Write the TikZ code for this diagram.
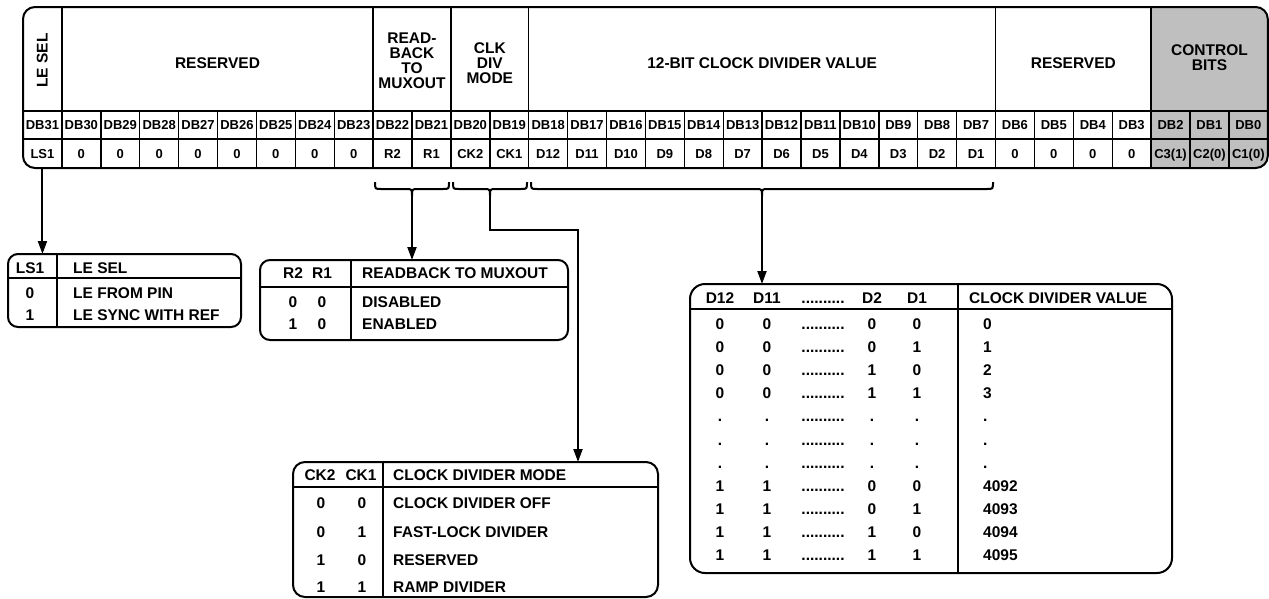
\documentclass[tikz,border=0pt]{standalone}
\usepackage{fontspec}
\setmainfont{Liberation Sans}
\usetikzlibrary{arrows.meta}
\definecolor{ctrlgray}{RGB}{191,191,191}
\newcommand\hdf{\fontsize{15.5}{15}\selectfont\bfseries}
\newcommand\dbf{\fontsize{13}{13}\selectfont\bfseries}
\newcommand\tbf{\fontsize{15.5}{15.5}\selectfont\bfseries}
\newcommand\regbrace[3]{%
  \pgfmathsetmacro\bc{(#1+#2)/2}%
  \draw[brc] (#1,182) .. controls (#1,189) .. (#1+6,189) -- (\bc-6,189)
    .. controls (\bc,189) .. (\bc,196) .. controls (\bc,189) .. (\bc+6,189)
    -- (#2-6,189) .. controls (#2,189) .. (#2,182);
  \coordinate (#3) at (\bc,196);}
\begin{document}
\begin{tikzpicture}[x=1pt,y=-1pt,
  tbox/.style={draw=black, line width=2pt, inner sep=0pt, outer sep=0pt, rounded corners=10pt},
  gridl/.style={line width=1.4pt},
  tgrid/.style={line width=1.4pt},
  arr/.style={line width=2pt, -{Triangle[length=13pt,width=9pt]}},
  brc/.style={line width=2pt},
  hd/.style={font=\hdf, align=center, inner sep=0pt},
  dbl/.style={font=\dbf, anchor=base, inner sep=0pt},
  tc/.style={font=\tbf, anchor=base, inner sep=0pt},
  tl/.style={font=\tbf, anchor=base west, inner sep=0pt}]
\useasboundingbox (0,0) rectangle (1269,598);

% control bits shading
\fill[ctrlgray] (1151.1,7) [rounded corners=12pt] -- (1267.8,7) -- (1267.8,168) [sharp corners] -- (1151.1,168) -- cycle;

% register outline
\node[draw, line width=2pt, rounded corners=12pt, minimum width=1244.8pt, minimum height=161pt, inner sep=0pt] (reg) at (645.4,87.5) {};
\draw[gridl] (23,111) -- (1267.8,111);
\draw[gridl] (23,139) -- (1267.8,139);
\foreach \i in {1,...,31}{\pgfmathsetmacro\xx{23+38.9*\i}\draw[gridl] (\xx,111) -- (\xx,168);}
\foreach \i in {1,9,11,13,25,29}{\pgfmathsetmacro\xx{23+38.9*\i}\draw[gridl] (\xx,7) -- (\xx,111);}

% headers
\node[hd, rotate=90] (hLE) at (42.4,60.5) {LE SEL};
\node[hd] (hRes1) at (217.5,63) {RESERVED};
\node[hd] (hRB) at (412,61) {READ-\\BACK\\TO\\MUXOUT};
\node[hd] (hCK) at (489.8,63) {CLK\\DIV\\MODE};
\node[hd] (h12) at (762.1,63) {12-BIT CLOCK DIVIDER VALUE};
\node[hd] (hRes2) at (1073.3,63) {RESERVED};
\node[hd] (hCB) at (1209.5,58) {CONTROL\\BITS};

% bit labels
\foreach \i in {0,...,31}{%
  \pgfmathtruncatemacro\bb{31-\i}%
  \pgfmathsetmacro\xc{23+38.9*(\i+0.5)}%
  \node[dbl] (db\i) at (\xc,129.7) {DB\bb};}
\foreach \v [count=\i from 0] in {LS1,0,0,0,0,0,0,0,0,R2,R1,CK2,CK1,D12,D11,D10,D9,D8,D7,D6,D5,D4,D3,D2,D1,0,0,0,0,C3(1),C2(0),C1(0)}{%
  \pgfmathsetmacro\xc{23+38.9*(\i+0.5)}%
  \node[dbl] (v\i) at (\xc,158.2) {\v};}

% braces
\regbrace{375}{449}{b1}
\regbrace{453}{527}{b2}
\regbrace{531}{993}{b3}

% LE SEL table
\node[tbox, minimum width=233pt, minimum height=73pt] (tabLE) at (124.5,290.5) {};
\draw[tgrid] (57,254) -- (57,327);
\draw[tgrid] (8,278) -- (241,278);
\node[tc] (le0) at (30,273.5) {LS1};
\node[tl] (le1) at (73,273.5) {LE SEL};
\node[tc] (le2) at (30,298.2) {0};
\node[tl] (le3) at (73,298.2) {LE FROM PIN};
\node[tc] (le4) at (30,320.5) {1};
\node[tl] (le5) at (73,320.5) {LE SYNC WITH REF};

% Readback table
\node[tbox, minimum width=308pt, minimum height=80pt] (tabRB) at (414,300) {};
\draw[tgrid] (351,260) -- (351,340);
\draw[tgrid] (260,287) -- (568,287);
\node[tc] (rb0) at (293,278.8) {R2};
\node[tc] (rb1) at (322,278.8) {R1};
\node[tl] (rb2) at (362,278.8) {READBACK TO MUXOUT};
\node[tc] (rb3) at (293,307.5) {0};
\node[tc] (rb4) at (322,307.5) {0};
\node[tl] (rb5) at (362,307.5) {DISABLED};
\node[tc] (rb6) at (293,329.5) {1};
\node[tc] (rb7) at (322,329.5) {0};
\node[tl] (rb8) at (362,329.5) {ENABLED};

% Clock divider mode table
\node[tbox, rounded corners=12pt, minimum width=365pt, minimum height=135pt] (tabCK) at (475.5,529.5) {};
\draw[tgrid] (383,462) -- (383,597);
\draw[tgrid] (293,487) -- (658,487);
\node[tc] (ck0) at (320,480.5) {CK2};
\node[tc] (ck1) at (361,480.5) {CK1};
\node[tl] (ck2) at (393,480.5) {CLOCK DIVIDER MODE};
\foreach \a/\b/\t/\yy [count=\k] in {0/0/CLOCK DIVIDER OFF/508.8, 0/1/FAST-LOCK DIVIDER/537.2, 1/0/RESERVED/565.5, 1/1/RAMP DIVIDER/592.2}{%
  \node[tc] (cka\k) at (321,\yy) {\a};
  \node[tc] (ckb\k) at (362,\yy) {\b};
  \node[tl] (ckt\k) at (393,\yy) {\t};}

% Clock divider value table
\node[tbox, rounded corners=15pt, minimum width=482pt, minimum height=289pt] (tabDV) at (931,428.5) {};
\draw[tgrid] (958,284) -- (958,573);
\draw[tgrid] (690,309) -- (1172,309);
\node[tc] (dh1) at (720,303.5) {D12};
\node[tc] (dh2) at (767,303.5) {D11};
\node[tc] (dh3) at (823,303.5) {..........};
\node[tc] (dh4) at (872,303.5) {D2};
\node[tc] (dh5) at (917,303.5) {D1};
\node[tl] (dh6) at (969,303.5) {CLOCK DIVIDER VALUE};
\foreach \a/\b/\c/\d/\e [count=\k from 0] in {0/0/0/0/0, 0/0/0/1/1, 0/0/1/0/2, 0/0/1/1/3, ./././././., ./././././., ./././././., 1/1/0/0/4092, 1/1/0/1/4093, 1/1/1/0/4094, 1/1/1/1/4095}{%
  \pgfmathsetmacro\yy{329.5+23.1*\k}%
  \node[tc] (dva\k) at (720,\yy) {\a};
  \node[tc] (dvb\k) at (767,\yy) {\b};
  \node[tc] (dvd\k) at (823,\yy) {..........};
  \node[tc] (dvc\k) at (872,\yy) {\c};
  \node[tc] (dve\k) at (917,\yy) {\d};
  \node[tl] (dvf\k) at (983,\yy) {\e};}

% connectors
\draw[arr] (v0 |- reg.south) -- (v0 |- tabLE.north);
\draw[arr] (b1) -- (b1 |- tabRB.north);
\coordinate (ckturn) at (578,230);
\draw[arr] (b2) |- (ckturn) -- (ckturn |- tabCK.north);
\draw[arr] (b3) -- (b3 |- tabDV.north);
\end{tikzpicture}
\end{document}
